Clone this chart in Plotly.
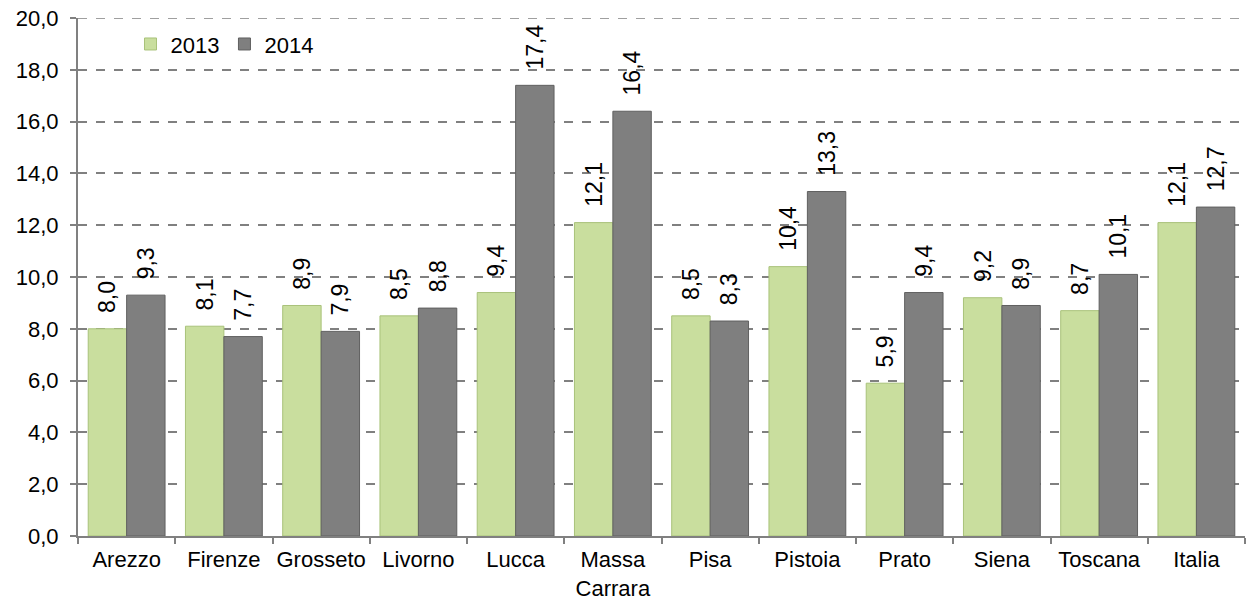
import plotly.graph_objects as go

categories = ["Arezzo", "Firenze", "Grosseto", "Livorno", "Lucca", "Massa<br>Carrara",
              "Pisa", "Pistoia", "Prato", "Siena", "Toscana", "Italia"]
v2013 = [8.0, 8.1, 8.9, 8.5, 9.4, 12.1, 8.5, 10.4, 5.9, 9.2, 8.7, 12.1]
v2014 = [9.3, 7.7, 7.9, 8.8, 17.4, 16.4, 8.3, 13.3, 9.4, 8.9, 10.1, 12.7]
yticks = [0, 2, 4, 6, 8, 10, 12, 14, 16, 18, 20]

def fmt(v):
    return f"{v:.1f}".replace(".", ",")

def lbl(v):
    return "\u00a0\u00a0" + fmt(v)

font = "Liberation Sans, Arial, sans-serif"
fig = go.Figure()
fig.add_bar(x=categories, y=v2013, name="2013",
            marker=dict(color="#c9de9e", line=dict(color="#a9c27a", width=1)),
            text=[lbl(v) for v in v2013], textposition="outside", textangle=-90,
            constraintext="none",
            textfont=dict(size=23, color="#000000", family=font), cliponaxis=False)
fig.add_bar(x=categories, y=v2014, name="2014",
            marker=dict(color="#7f7f7f", line=dict(color="#606060", width=1)),
            text=[lbl(v) for v in v2014], textposition="outside", textangle=-90,
            constraintext="none",
            textfont=dict(size=23, color="#000000", family=font), cliponaxis=False)

fig.update_layout(
    width=1249, height=600,
    margin=dict(l=78, r=4, t=18, b=64),
    paper_bgcolor="white", plot_bgcolor="white",
    barmode="group", bargap=0.21, bargroupgap=0.0,
    font=dict(family=font, size=22, color="#000000"),
    showlegend=True,
    legend=dict(orientation="h", x=0.045, y=0.99, xanchor="left", yanchor="top",
                font=dict(size=22), bgcolor="rgba(0,0,0,0)",
                itemwidth=30, tracegroupgap=0),
    uniformtext=dict(mode=False),
    shapes=[dict(type="line", xref="paper", x0=0, x1=1, yref="y",
                 y0=yticks[-1], y1=yticks[-1],
                 line=dict(color="#808080", width=1.5, dash="dash"))],
)
fig.update_yaxes(range=[0, 20.0001], tickvals=yticks, ticktext=[fmt(v) for v in yticks],
                 showgrid=True, gridcolor="#808080", griddash="dash", gridwidth=1.5,
                 showline=True, linecolor="#808080", linewidth=2,
                 ticks="outside", tickcolor="#808080", ticklen=6, tickwidth=2,
                 ticklabelstandoff=7,
                 tickfont=dict(size=22), zeroline=False, automargin=False)
fig.update_xaxes(showline=True, linecolor="#808080", linewidth=2,
                 ticks="outside", tickson="boundaries", tickcolor="#808080",
                 ticklen=6, tickwidth=2, ticklabelstandoff=3, tickangle=0,
                 tickfont=dict(size=22), showgrid=False,
                 automargin=False)

fig.write_html("out.html", config={"displayModeBar": False},
               post_script="document.body.style.margin='0';")
